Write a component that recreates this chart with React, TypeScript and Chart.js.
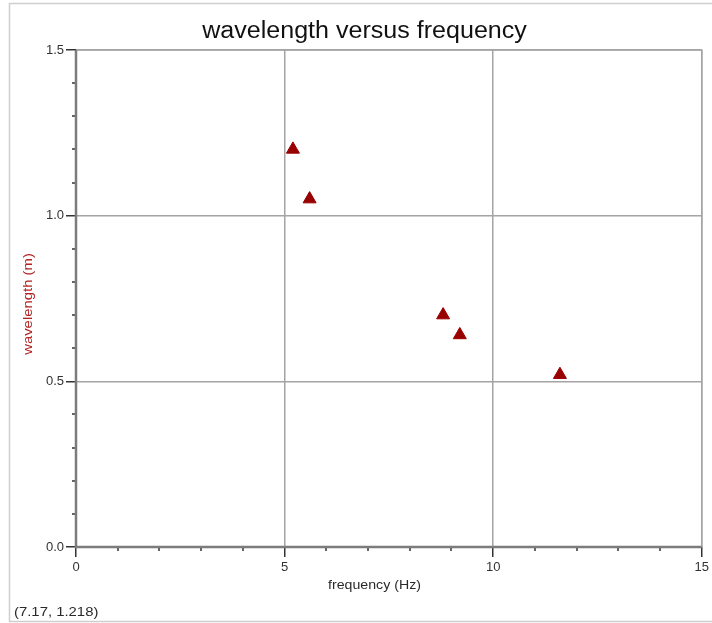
import React, { useEffect, useRef } from "react";
import { Chart, registerables } from "chart.js";

Chart.register(...registerables);

const frequency = [5.2, 5.6, 8.8, 9.2, 11.6];
const wavelength = [1.2, 1.05, 0.7, 0.64, 0.52];
const chartTitle = "wavelength versus frequency";
const xTitle = "frequency (Hz)";
const yTitle = "wavelength (m)";
const cursorText = "(7.17, 1.218)";
const xMin = 0, xMax = 15, xMajor = 5, xMinor = 1;
const yMin = 0, yMax = 1.5, yMajor = 0.5, yMinor = 0.1;

const FONT = '"Liberation Sans", Arial, sans-serif';

function stretchText(
  ctx: CanvasRenderingContext2D,
  text: string,
  x: number,
  y: number,
  sx: number,
  size: number,
  color: string,
  align: CanvasTextAlign = "center",
  rot = 0
) {
  ctx.save();
  ctx.translate(x, y);
  if (rot) ctx.rotate(rot);
  ctx.scale(sx, 1);
  ctx.font = `${size}px ${FONT}`;
  ctx.fillStyle = color;
  ctx.textAlign = align;
  ctx.textBaseline = "alphabetic";
  ctx.fillText(text, 0, 0);
  ctx.restore();
}

const decorPlugin = {
  id: "decor",
  beforeDraw(chart: any) {
    const ctx = chart.ctx as CanvasRenderingContext2D;
    ctx.save();
    ctx.fillStyle = "#ffffff";
    ctx.fillRect(0, 0, chart.width, chart.height);
    ctx.strokeStyle = "#cfcfcf";
    ctx.lineWidth = 1.5;
    ctx.beginPath();
    ctx.moveTo(chart.width, 3.5);
    ctx.lineTo(9.5, 3.5);
    ctx.lineTo(9.5, 621.5);
    ctx.lineTo(chart.width, 621.5);
    ctx.stroke();
    ctx.restore();
  },
  beforeDatasetsDraw(chart: any) {
    const ctx = chart.ctx as CanvasRenderingContext2D;
    const a = chart.chartArea;
    const xs = chart.scales.x;
    const ys = chart.scales.y;
    ctx.save();
    // top & right border
    ctx.strokeStyle = "#a4a4a4";
    ctx.lineWidth = 1.5;
    ctx.beginPath();
    ctx.moveTo(a.left, a.top);
    ctx.lineTo(a.right, a.top);
    ctx.lineTo(a.right, a.bottom);
    ctx.stroke();
    // minor ticks
    ctx.strokeStyle = "#333333";
    ctx.lineWidth = 1.5;
    ctx.beginPath();
    for (let v = xMin; v <= xMax + 1e-9; v += xMinor) {
      if (Math.abs(v / xMajor - Math.round(v / xMajor)) < 1e-6) continue;
      const px = Math.round(xs.getPixelForValue(v));
      ctx.moveTo(px, a.bottom);
      ctx.lineTo(px, a.bottom + 4);
    }
    for (let i = 0; yMin + i * yMinor <= yMax + 1e-9; i++) {
      const v = yMin + i * yMinor;
      if (Math.abs(v / yMajor - Math.round(v / yMajor)) < 1e-6) continue;
      const py = Math.round(ys.getPixelForValue(v));
      ctx.moveTo(a.left - 4, py);
      ctx.lineTo(a.left, py);
    }
    ctx.stroke();
    // axis lines
    ctx.strokeStyle = "#7c7c7c";
    ctx.lineWidth = 2.5;
    ctx.beginPath();
    ctx.moveTo(a.left, a.top);
    ctx.lineTo(a.left, a.bottom);
    ctx.lineTo(a.right, a.bottom);
    ctx.stroke();
    ctx.restore();
  },
  afterDraw(chart: any) {
    const ctx = chart.ctx as CanvasRenderingContext2D;
    stretchText(ctx, chartTitle, 364.5, 38, 1.09, 23, "#111111");
    stretchText(ctx, xTitle, 374.5, 589, 1.18, 12, "#2a2a2a");
    stretchText(ctx, yTitle, 32, 304, 1.24, 12, "#b22222", "center", -Math.PI / 2);
    stretchText(ctx, cursorText, 14, 616, 1.24, 12, "#2a2a2a", "left");
  },
};

export default function App() {
  const canvasRef = useRef<HTMLCanvasElement | null>(null);

  useEffect(() => {
    if (!canvasRef.current) return;
    const chart = new Chart(canvasRef.current, {
      type: "scatter",
      data: {
        datasets: [
          {
            label: yTitle,
            data: frequency.map((f, i) => ({ x: f, y: wavelength[i] })),
            pointStyle: "triangle",
            pointRadius: 7.5,
            pointBackgroundColor: "#990000",
            pointBorderColor: "#990000",
            pointBorderWidth: 1,
          },
        ],
      },
      options: {
        animation: false,
        responsive: true,
        maintainAspectRatio: false,
        events: [],
        layout: { padding: { top: 50, right: 9, left: 0, bottom: 0 } },
        plugins: {
          legend: { display: false },
          title: { display: false },
          tooltip: { enabled: false },
        },
        scales: {
          x: {
            type: "linear",
            min: xMin,
            max: xMax,
            afterFit: (s: any) => {
              s.height = 76;
            },
            ticks: {
              stepSize: xMajor,
              font: { family: FONT, size: 13 },
              color: "#333333",
              padding: 3,
            },
            grid: {
              color: "#a4a4a4",
              lineWidth: 1.5,
              tickLength: 10,
              tickColor: "#333333",
              tickWidth: 1.5,
            },
            border: { display: false },
          },
          y: {
            type: "linear",
            min: yMin,
            max: yMax,
            afterFit: (s: any) => {
              s.width = 76;
            },
            ticks: {
              stepSize: yMajor,
              font: { family: FONT, size: 13 },
              color: "#333333",
              padding: 2,
              callback: (v: any) => Number(v).toFixed(1),
            },
            grid: {
              color: "#a4a4a4",
              lineWidth: 1.5,
              tickLength: 10,
              tickColor: "#333333",
              tickWidth: 1.5,
            },
            border: { display: false },
          },
        },
      },
      plugins: [decorPlugin],
    });
    return () => chart.destroy();
  }, []);

  return (
    <div style={{ position: "absolute", left: 0, top: 0, width: 712, height: 623 }}>
      <canvas ref={canvasRef} />
    </div>
  );
}
